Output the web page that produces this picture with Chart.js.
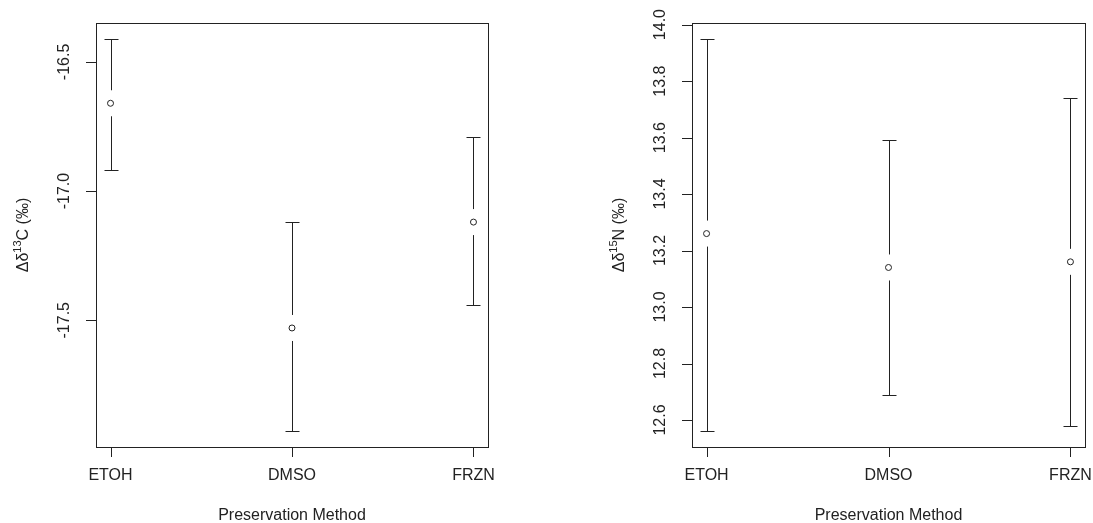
<!DOCTYPE html>
<html>
<head>
<meta charset="utf-8">
<script src="https://cdn.jsdelivr.net/npm/chart.js@4.4.1/dist/chart.umd.min.js"></script>
<style>
  html, body { margin: 0; padding: 0; background: #fff; }
  #wrap { position: relative; width: 1093px; height: 523px; }
  canvas { position: absolute; top: 0; }
</style>
</head>
<body>
<div id="wrap">
  <canvas id="carbon" width="546" height="523" style="left:0"></canvas>
  <canvas id="nitrogen" width="547" height="523" style="left:546px"></canvas>
</div>
<script>
const categories = ['ETOH', 'DMSO', 'FRZN'];

const carbonMean = [-16.66, -17.53, -17.12];
const carbonLower = [-16.92, -17.93, -17.44];
const carbonUpper = [-16.41, -17.12, -16.79];
const carbonTicks = [-17.5, -17.0, -16.5];

const nitrogenMean = [13.26, 13.14, 13.16];
const nitrogenLower = [12.56, 12.69, 12.58];
const nitrogenUpper = [13.95, 13.59, 13.74];
const nitrogenTicks = [12.6, 12.8, 13.0, 13.2, 13.4, 13.6, 13.8, 14.0];

const FONT = "'Liberation Sans', Arial, sans-serif";
const INK = '#222';

// R style axis range: data range + 4% on each side
function rRange(lo, hi) {
    const d = (hi - lo) * 0.04;
    return [lo - d, hi + d];
}

const errorBarPlugin = {
    id: 'errorBars',
    beforeDatasetsDraw(chart, args, opts) {
        const ctx = chart.ctx;
        const xs = chart.scales.x, ys = chart.scales.y;
        ctx.save();
        ctx.strokeStyle = INK;
        ctx.lineWidth = 1;
        opts.means.forEach((m, i) => {
            const px = Math.round(xs.getPixelForValue(i + 1)) + 0.5;
            const pm = ys.getPixelForValue(m);
            const pu = Math.round(ys.getPixelForValue(opts.uppers[i])) + 0.5;
            const pl = Math.round(ys.getPixelForValue(opts.lowers[i])) + 0.5;
            ctx.beginPath();
            ctx.moveTo(px, pu); ctx.lineTo(px, pm - opts.gap);
            ctx.moveTo(px, pm + opts.gap); ctx.lineTo(px, pl);
            ctx.moveTo(px - 7, pu); ctx.lineTo(px + 7, pu);
            ctx.moveTo(px - 7, pl); ctx.lineTo(px + 7, pl);
            ctx.stroke();
        });
        ctx.restore();
    }
};

const framePlugin = {
    id: 'rFrame',
    afterDraw(chart, args, opts) {
        const ctx = chart.ctx;
        const a = chart.chartArea;
        const xs = chart.scales.x, ys = chart.scales.y;
        ctx.save();
        ctx.strokeStyle = INK;
        ctx.lineWidth = 1;
        ctx.strokeRect(Math.round(a.left) + 0.5, Math.round(a.top) + 0.5,
            Math.round(a.right - a.left), Math.round(a.bottom - a.top));

        // tick marks
        ctx.beginPath();
        xs.ticks.forEach(t => {
            const px = Math.round(xs.getPixelForValue(t.value)) + 0.5;
            ctx.moveTo(px, a.bottom); ctx.lineTo(px, a.bottom + 10);
        });
        ys.ticks.forEach(t => {
            const py = Math.round(ys.getPixelForValue(t.value)) + 0.5;
            ctx.moveTo(a.left, py); ctx.lineTo(a.left - 10, py);
        });
        ctx.stroke();

        ctx.fillStyle = INK;
        ctx.font = '16px ' + FONT;
        ctx.textAlign = 'center';
        ctx.textBaseline = 'middle';

        // x tick labels
        xs.ticks.forEach(t => {
            ctx.fillText(categories[t.value - 1], xs.getPixelForValue(t.value), a.bottom + 29);
        });
        // y tick labels, rotated like R (las = 0)
        ys.ticks.forEach(t => {
            ctx.save();
            ctx.translate(a.left - 31, ys.getPixelForValue(t.value));
            ctx.rotate(-Math.PI / 2);
            ctx.fillText(t.value.toFixed(1), 0, 0);
            ctx.restore();
        });

        // x title
        ctx.fillText('Preservation Method', (a.left + a.right) / 2, a.bottom + 69);

        // y title with superscript
        const parts = [
            { t: 'Δδ', size: 16, dy: 0 },
            { t: opts.isotope, size: 11, dy: -6 },
            { t: opts.element + ' (‰)', size: 16, dy: 0 }
        ];
        let total = 0;
        parts.forEach(p => { ctx.font = p.size + 'px ' + FONT; p.w = ctx.measureText(p.t).width; total += p.w; });
        ctx.save();
        ctx.translate(a.left - 72, (a.top + a.bottom) / 2);
        ctx.rotate(-Math.PI / 2);
        ctx.textAlign = 'left';
        let cx = -total / 2;
        parts.forEach(p => {
            ctx.font = p.size + 'px ' + FONT;
            ctx.fillText(p.t, cx, p.dy);
            cx += p.w;
        });
        ctx.restore();
        ctx.restore();
    }
};

function makePanel(id, means, lowers, uppers, yTicks, leftWidth, rightPad, isotope, element) {
    const yr = rRange(Math.min(...lowers), Math.max(...uppers));
    return new Chart(document.getElementById(id), {
        type: 'scatter',
        data: {
            datasets: [{
                data: means.map((m, i) => ({ x: i + 1, y: m })),
                pointRadius: 3,
                pointHoverRadius: 3,
                pointBackgroundColor: '#fff',
                pointBorderColor: INK,
                pointBorderWidth: 1
            }]
        },
        plugins: [errorBarPlugin, framePlugin],
        options: {
            responsive: false,
            animation: false,
            events: [],
            layout: { padding: { top: 23, right: rightPad, bottom: 0, left: 0 } },
            scales: {
                x: {
                    type: 'linear',
                    min: 0.92,
                    max: 3.08,
                    afterBuildTicks: s => { s.ticks = [1, 2, 3].map(v => ({ value: v })); },
                    afterFit: s => { s.height = 76; },
                    ticks: { display: false },
                    grid: { display: false },
                    border: { display: false }
                },
                y: {
                    type: 'linear',
                    min: yr[0],
                    max: yr[1],
                    afterBuildTicks: s => { s.ticks = yTicks.map(v => ({ value: v })); },
                    afterFit: s => { s.width = leftWidth; },
                    ticks: { display: false },
                    grid: { display: false },
                    border: { display: false }
                }
            },
            plugins: {
                legend: { display: false },
                tooltip: { enabled: false },
                errorBars: { means: means, lowers: lowers, uppers: uppers, gap: 13 },
                rFrame: { isotope: isotope, element: element }
            }
        }
    });
}

makePanel('carbon', carbonMean, carbonLower, carbonUpper, carbonTicks, 96, 58, '13', 'C');
makePanel('nitrogen', nitrogenMean, nitrogenLower, nitrogenUpper, nitrogenTicks, 146, 8, '15', 'N');
</script>
</body>
</html>
